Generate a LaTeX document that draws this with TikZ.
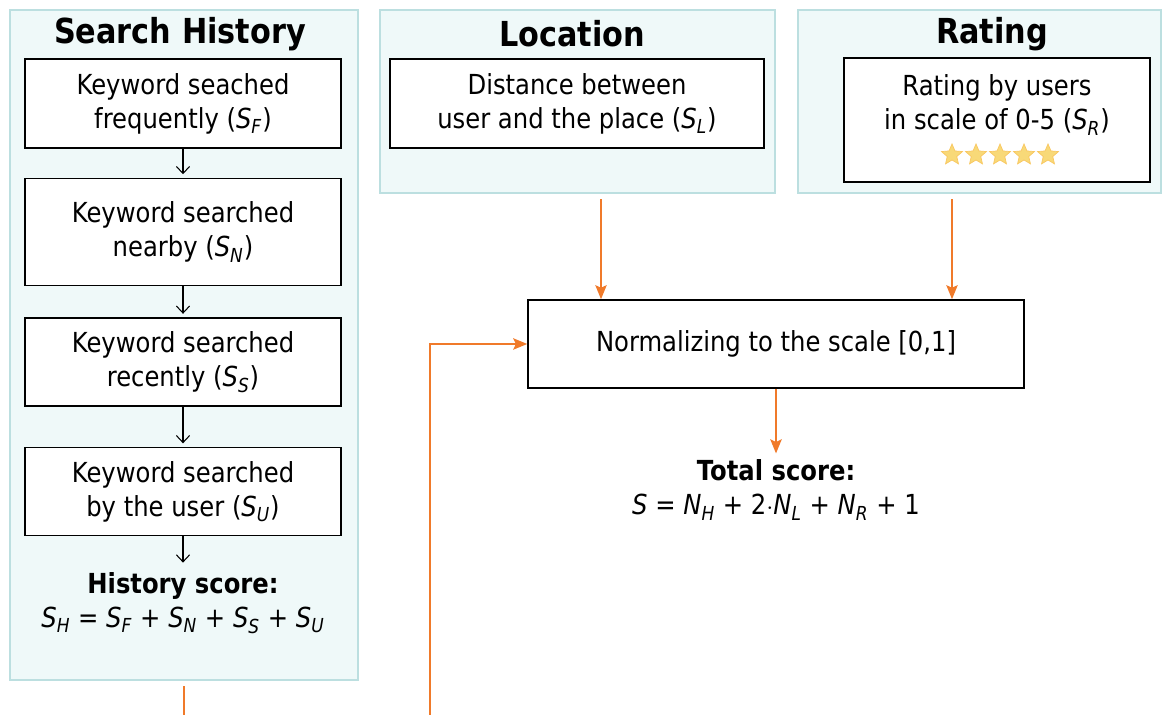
\documentclass[tikz,border=0pt]{standalone}
\usepackage{fontspec}
\setmainfont{DejaVu Sans}[FakeStretch=0.88]
\usetikzlibrary{shapes,arrows,arrows.meta,positioning}
\definecolor{panelfill}{HTML}{EFF9F9}
\definecolor{panelline}{HTML}{BCDFE0}
\definecolor{flow}{HTML}{F07A2A}
\definecolor{stargold}{HTML}{F8D978}
\newcommand{\sym}[2]{\textit{#1}\textsubscript{\textit{#2}}}

\begin{document}
\begin{tikzpicture}[x=0.02cm,y=0.02cm,>={Straight Barb[length=4pt,width=7.5pt]},semithick,
  font=\fontsize{15.7}{19.4}\selectfont]
\tikzstyle{panel}=[draw=panelline,fill=panelfill,line width=1.2pt,inner sep=0pt]
\tikzstyle{title}=[font=\fontsize{19.6}{24}\selectfont\bfseries]
\tikzstyle{box}=[draw=black,fill=white,line width=0.9pt,minimum width=6.32cm,minimum height=1.76cm,align=center]
\tikzstyle{starmark}=[star,star points=5,star point ratio=2.2,fill=stargold,draw=stargold!80!orange,line width=0.4pt,minimum size=0.44cm,inner sep=0pt]
\tikzstyle{flowarrow}=[draw=flow,line width=0.9pt,-{Stealth[length=8pt,width=6.5pt,inset=1.5pt]}]
\useasboundingbox (0,0) rectangle (1163,715);

% panels
\node[panel,minimum width=6.96cm,minimum height=13.4cm] (histp) at (184,370) {};
\node[panel,minimum width=7.9cm,minimum height=3.66cm] (locp) at (577.5,613.5) {};
\node[panel,minimum width=7.26cm,minimum height=3.66cm] (ratp) at (979.5,613.5) {};
\node[title] (histt) at (180,681) {Search History};
\node[title] (loct) at (572,681) {Location};
\node[title] (ratt) at (992,681) {Rating};

% search history
\node[box,minimum height=1.78cm] (freq) at (183,611.5) {Keyword seached\\frequently (\sym{S}{F})};
\node[box,minimum height=2.14cm,below=0.58cm of freq] (near) {Keyword searched\\nearby (\sym{S}{N})};
\node[box,below=0.62cm of near] (recent) {Keyword searched\\recently (\sym{S}{S})};
\node[box,below=0.8cm of recent] (user) {Keyword searched\\by the user (\sym{S}{U})};
\node[align=center] (hscore) at (183,112) {\textbf{History score:}\\\sym{S}{H} = \sym{S}{F} + \sym{S}{N} + \sym{S}{S} + \sym{S}{U}};

% location and rating
\node[box,minimum width=7.48cm,minimum height=1.78cm] (dist) at (577,611.5) {Distance between\\user and the place (\sym{S}{L})};
\node[box,minimum width=6.12cm,minimum height=2.48cm] (rate) at (997,595) {};
\node[align=center] (ratetxt) at (997,610) {Rating by users\\in scale of 0-5 (\sym{S}{R})};
\foreach \i in {0,...,4}
  \node[starmark] (st\i) at (952+24*\i,560) {};

% scores
\node[box,minimum width=9.92cm] (norm) at (776,371) {Normalizing to the scale [0,1]};
\node[align=center] (total) at (776,225) {\textbf{Total score:}\\\textit{S} = \sym{N}{H} + 2$\cdot$\sym{N}{L} + \sym{N}{R} + 1};

\coordinate (lx) at (601,0);
\coordinate (rx) at (952,0);
\coordinate (fb) at (430,-30);

\path[->,shorten >=2pt] (freq) edge (near)
          (near) edge (recent)
          (recent) edge (user)
          (user) edge (hscore);
\draw[flowarrow,shorten <=3pt] (locp.south -| lx) -- (norm.north -| lx);
\draw[flowarrow,shorten <=3pt] (ratp.south -| rx) -- (norm.north -| rx);
\draw[flowarrow] (norm) -- (total);
\draw[flowarrow,shorten <=3pt] (histp.south) |- (fb) |- (norm.west);
\end{tikzpicture}
\end{document}
